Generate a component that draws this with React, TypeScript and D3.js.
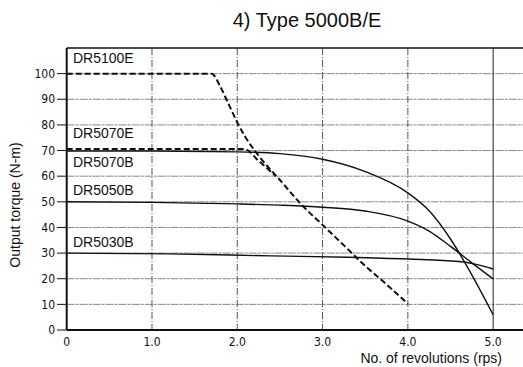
import { line, scaleLinear, curveMonotoneX, range } from "d3";
import { FC } from "react";

type Pt = [number, number];

// rps, torque (N-m)
const dr5100e: Pt[] = [
  [0, 100], [1.7, 100], [1.8, 95], [1.9, 88], [2.0, 81], [2.1, 75], [2.25, 68],
  [2.5, 58.5], [2.75, 49], [3.0, 41], [3.25, 33], [3.5, 25], [3.75, 17.8], [4.0, 10.2]
];
const dr5070e: Pt[] = [[0, 70.6], [2.08, 70.6], [2.25, 66], [2.45, 60]];
const dr5070b: Pt[] = [
  [0, 69.8], [1.0, 69.8], [2.0, 69.5], [2.5, 68.8], [3.0, 66.6], [3.5, 61.8],
  [4.0, 53.5], [4.25, 46.5], [4.5, 35.5], [4.75, 21.5], [5.0, 5.9]
];
const dr5050b: Pt[] = [
  [0, 50], [1.0, 49.8], [2.0, 49.2], [2.5, 48.7], [3.0, 47.9], [3.5, 46.4],
  [4.0, 42.5], [4.25, 38.6], [4.5, 32.6], [4.75, 26.2], [5.0, 19.9]
];
const dr5030b: Pt[] = [
  [0, 30], [1.2, 29.7], [2.4, 28.9], [3.3, 28.4], [4.0, 27.7], [4.6, 26.7],
  [4.8, 25.6], [5.0, 23.8]
];

const seriesLabels = ["DR5100E", "DR5070E", "DR5070B", "DR5050B", "DR5030B"];
const labelTorque = [104, 75, 63.5, 52.5, 32.5];
const yTicks = range(0, 101, 10);
const xTicks = [0, 1, 2, 3, 4, 5];
const xTickLabels = ["0", "1.0", "2.0", "3.0", "4.0", "5.0"];

const W = 523;
const H = 367;

const App: FC = () => {
  const x = scaleLinear().domain([0, 5.35]).range([66.7, 523]);
  const y = scaleLinear().domain([0, 110]).range([330, 48]);
  const path = line<Pt>()
    .x((d) => x(d[0]))
    .y((d) => y(d[1]))
    .curve(curveMonotoneX);

  const narrow = "'Liberation Sans Narrow', 'DejaVu Sans Condensed', sans-serif";
  const sans = "'Liberation Sans', Arial, sans-serif";

  return (
    <svg
      width={W}
      height={H}
      style={{ position: "absolute", left: 0, top: 0, background: "#fff" }}
    >
      {/* horizontal grid */}
      {yTicks.filter((t) => t > 0).map((t) => (
        <line
          key={"h" + t}
          x1={x(0)}
          x2={W}
          y1={y(t)}
          y2={y(t)}
          stroke="#888"
          strokeWidth={1}
          strokeDasharray="8,1,3,1"
        />
      ))}
      {/* vertical grid */}
      {xTicks.filter((t) => t > 0).map((t) => (
        <line
          key={"v" + t}
          x1={x(t)}
          x2={x(t)}
          y1={y(110)}
          y2={y(0)}
          stroke={t === 5 ? "#222" : "#555"}
          strokeWidth={1}
          strokeDasharray={t === 5 ? undefined : "7,2,1,2"}
        />
      ))}
      {/* frame */}
      <line x1={x(0)} x2={W} y1={y(110)} y2={y(110)} stroke="#111" strokeWidth={1.5} />
      <line x1={x(0)} x2={W} y1={y(0)} y2={y(0)} stroke="#111" strokeWidth={2} />
      <line x1={x(0)} x2={x(0)} y1={y(110)} y2={y(0)} stroke="#111" strokeWidth={2} />

      {/* y ticks */}
      {yTicks.map((t) => (
        <g key={"yt" + t}>
          <line x1={57} x2={x(0)} y1={y(t)} y2={y(t)} stroke="#111" strokeWidth={1} />
          <text
            x={55}
            y={y(t)}
            dy="0.35em"
            textAnchor="end"
            fontFamily={narrow}
            fontSize={12}
            fill="#111"
          >
            {t}
          </text>
        </g>
      ))}
      {/* x ticks */}
      {xTicks.map((t, i) => (
        <text
          key={"xt" + t}
          x={x(t)}
          y={346}
          textAnchor="middle"
          fontFamily={narrow}
          fontSize={12}
          fill="#111"
        >
          {xTickLabels[i]}
        </text>
      ))}

      {/* curves */}
      {[dr5030b, dr5050b, dr5070b].map((d, i) => (
        <path key={"s" + i} d={path(d) ?? ""} fill="none" stroke="#111" strokeWidth={1.4} />
      ))}
      {[dr5100e, dr5070e].map((d, i) => (
        <path
          key={"d" + i}
          d={path(d) ?? ""}
          fill="none"
          stroke="#111"
          strokeWidth={2}
          strokeDasharray="6,3"
        />
      ))}

      {/* series labels */}
      {seriesLabels.map((s, i) => (
        <text
          key={s}
          x={73}
          y={y(labelTorque[i])}
          fontFamily={sans}
          fontSize={14}
          fill="#111"
        >
          {s}
        </text>
      ))}

      {/* titles */}
      <text x={307} y={27} textAnchor="middle" fontFamily={sans} fontSize={20} fill="#111">
        4) Type 5000B/E
      </text>
      <text
        transform={`translate(20,205) rotate(-90)`}
        textAnchor="middle"
        fontFamily={sans}
        fontSize={14}
        fill="#111"
      >
        Output torque (N-m)
      </text>
      <text x={502} y={363} textAnchor="end" fontFamily={sans} fontSize={14} fill="#111">
        No. of revolutions (rps)
      </text>
    </svg>
  );
};

export default App;
